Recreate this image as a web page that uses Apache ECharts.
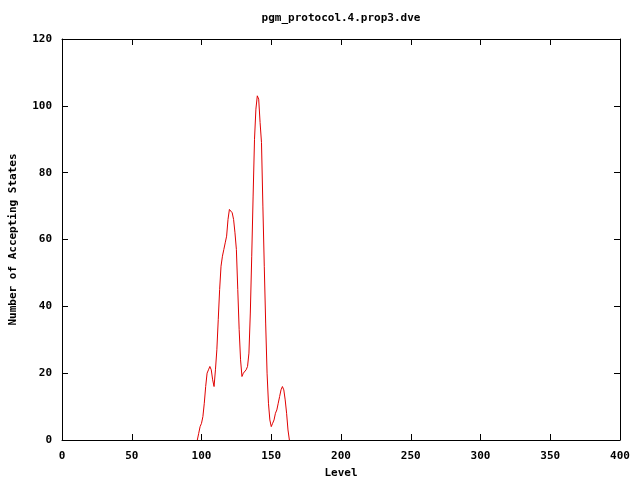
<!DOCTYPE html>
<html>
<head>
<meta charset="utf-8">
<script src="https://cdn.jsdelivr.net/npm/echarts@6/dist/echarts.min.js"></script>
<style>
  html, body { margin: 0; padding: 0; background: #fff; }
  #chart { width: 640px; height: 480px; }
</style>
</head>
<body>
<div id="chart"></div>
<script>
// level -> number of accepting states
var levels = [97, 98, 99, 100, 101, 102, 103, 104, 105, 106, 107, 108, 109, 110,
  111, 112, 113, 114, 115, 116, 117, 118, 119, 120, 121, 122, 123, 124, 125,
  126, 127, 128, 129, 130, 131, 132, 133, 134, 135, 136, 137, 138, 139, 140,
  141, 142, 143, 144, 145, 146, 147, 148, 149, 150, 151, 152, 153, 154, 155,
  156, 157, 158, 159, 160, 161, 162, 163]
var states = [0, 2, 4, 5, 7, 11, 16, 20, 21, 22, 21, 18, 16, 21,
  27, 36, 45, 52, 55, 57, 59, 61, 66, 69, 69, 68, 66, 62, 57,
  45, 33, 24, 19, 20, 20, 21, 22, 26, 38, 55, 73, 90, 99, 103,
  102, 95, 89, 70, 52, 35, 20, 11, 6, 4, 5, 6, 8, 9, 11,
  13, 15, 16, 15, 12, 8, 3, 0]

var xTicks = [0, 400, 50]   // min, max, step
var yTicks = [0, 120, 20]

var font = 'DejaVu Sans Mono'
var chart = echarts.init(document.getElementById('chart'))

var pts = []
levels.map(function (l, i) {
  pts.push([l, states[i]])
})

var lineStyle = { color: '#000', width: 1 }
var label = { fontFamily: font, fontWeight: 'bold', fontSize: 11, color: '#000' }

var option = {
  animation: false,
  backgroundColor: '#fff',
  grid: { left: 62, right: 20, top: 39, bottom: 40, outerBoundsMode: 'none', containLabel: false },
  graphic: [{
    type: 'text',
    x: 341,
    y: 13,
    style: {
      text: 'pgm_protocol.4.prop3.dve',
      textAlign: 'center',
      align: 'center',
      font: 'bold 11px ' + font,
      fill: '#000'
    }
  }],
  xAxis: [{
    type: 'value',
    min: xTicks[0], max: xTicks[1], interval: xTicks[2],
    position: 'bottom',
    name: 'Level',
    nameLocation: 'middle',
    nameGap: 28,
    nameTextStyle: label,
    axisLine: { onZero: false, lineStyle: lineStyle },
    axisTick: { inside: true, length: 6, lineStyle: lineStyle },
    axisLabel: Object.assign({ margin: 11 }, label),
    splitLine: { show: false }
  }, {
    type: 'value',
    min: xTicks[0], max: xTicks[1], interval: xTicks[2],
    position: 'top',
    axisLine: { onZero: false, lineStyle: lineStyle },
    axisTick: { inside: true, length: 6, lineStyle: lineStyle },
    axisLabel: { show: false },
    splitLine: { show: false }
  }],
  yAxis: [{
    type: 'value',
    min: yTicks[0], max: yTicks[1], interval: yTicks[2],
    position: 'left',
    name: 'Number of Accepting States',
    nameLocation: 'middle',
    nameGap: 43,
    nameTextStyle: label,
    axisLine: { show: true, onZero: false, lineStyle: lineStyle },
    axisTick: { show: true, inside: true, length: 6, lineStyle: lineStyle },
    axisLabel: Object.assign({ margin: 10 }, label),
    splitLine: { show: false }
  }, {
    type: 'value',
    min: yTicks[0], max: yTicks[1], interval: yTicks[2],
    position: 'right',
    axisLine: { show: true, onZero: false, lineStyle: lineStyle },
    axisTick: { show: true, inside: true, length: 6, lineStyle: lineStyle },
    axisLabel: { show: false },
    splitLine: { show: false }
  }],
  series: [{
    type: 'line',
    xAxisIndex: 0,
    yAxisIndex: 0,
    data: pts,
    showSymbol: false,
    symbol: 'none',
    lineStyle: { color: '#e00000', width: 1 }
  }]
}
chart.setOption(option)
</script>
</body>
</html>
